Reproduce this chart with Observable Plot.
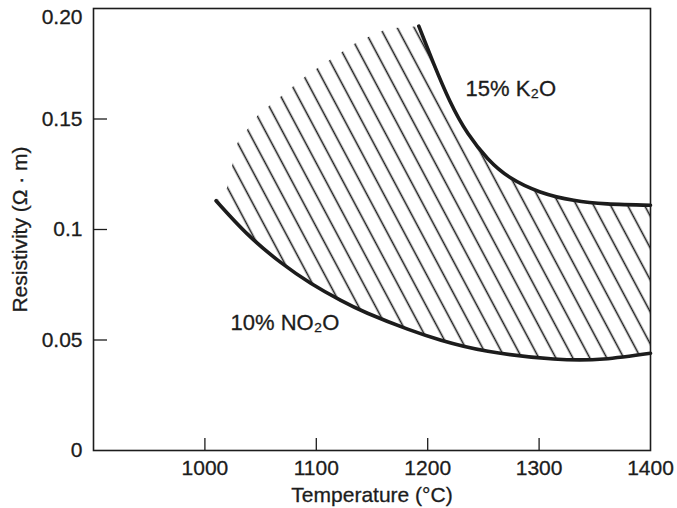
<!DOCTYPE html>
<html><head><meta charset="utf-8">
<script src="https://cdn.jsdelivr.net/npm/d3@7"></script>
<script src="https://cdn.jsdelivr.net/npm/@observablehq/plot@0.6"></script>
<style>body{margin:0;background:#fff;} svg{display:block} #chart svg text{stroke:#1c1c1c;stroke-width:0.3px;}</style>
</head><body><div id="chart"></div>
<script>
// Axis ticks
const xTicks = [1000, 1100, 1200, 1300, 1400];
const xTickLabels = ["1000", "1100", "1200", "1300", "1400"];
const yTicks = [0, 0.05, 0.1, 0.15, 0.2];
const yTickLabels = ["0", "0.05", "0.1", "0.15", "0.20"];

// 10% Na2O curve (lower)
const naTemp = [1010, 1038, 1068, 1095, 1122, 1146, 1182, 1212, 1254, 1313, 1358, 1400];
const naRes  = [0.113, 0.098, 0.0851, 0.0757, 0.0679, 0.0621, 0.0549, 0.0499, 0.0449, 0.0414, 0.0414, 0.044];

// 15% K2O curve (upper)
const kTemp = [1192, 1205, 1220, 1236, 1254, 1274, 1301, 1331, 1361, 1400];
const kRes  = [0.192, 0.1755, 0.158, 0.1435, 0.132, 0.1235, 0.117, 0.1132, 0.1116, 0.111];

// upper-left edge of the hatched band
const edgeTemp = [1010, 1020, 1029, 1048, 1070, 1092, 1113, 1137, 1164, 1192];
const edgeRes  = [0.113, 0.119, 0.139, 0.152, 0.161, 0.170, 0.177, 0.185, 0.191, 0.192];

// curve labels
const labelText = ["15% K\u2082O", "10% NO\u2082O"];
const labelTemp = [1234, 1023];
const labelRes  = [0.1638, 0.0575];

const na = naTemp.map((t, i) => ({t, r: naRes[i]}));
const k = kTemp.map((t, i) => ({t, r: kRes[i]}));
const edge = edgeTemp.map((t, i) => ({t, r: edgeRes[i]}));
const band = [...na, ...k.slice().reverse(), ...edge.slice().reverse()];
const labels = labelText.map((s, i) => ({s, t: labelTemp[i], r: labelRes[i]}));

const W = 677, H = 508, mL = 93, mR = 27, mT = 8, mB = 58;
const ink = "#1c1c1c";

const chart = Plot.plot({
  width: W, height: H,
  marginLeft: mL, marginRight: mR, marginTop: mT, marginBottom: mB,
  style: {fontFamily: "'Liberation Sans', Arial, Helvetica, sans-serif", fontSize: "21px", color: ink, background: "#fff"},
  x: {domain: [900, 1400]},
  y: {domain: [0, 0.2]},
  marks: [
    Plot.line(band, {x: "t", y: "r", fill: "url(#hatch)", stroke: "none", curve: "linear"}),
    Plot.line(na, {x: "t", y: "r", stroke: ink, strokeWidth: 3.6, curve: "natural"}),
    Plot.line(k, {x: "t", y: "r", stroke: ink, strokeWidth: 3.6, curve: "natural"}),
    Plot.ruleY(yTicks.filter(d => d > 0 && d < 0.2), {y: d => d, stroke: ink, strokeWidth: 1.3, insetRight: W - mL - mR - 14}),
    Plot.ruleX(xTicks.filter(d => d < 1400), {x: d => d, stroke: ink, strokeWidth: 1.3, insetTop: H - mT - mB - 12}),
    Plot.frame({stroke: ink, strokeWidth: 1.6}),
    Plot.axisX({ticks: xTicks, tickFormat: d => xTickLabels[xTicks.indexOf(d)], tickSize: 0, tickPadding: 10,
      label: "Temperature (°C)", labelAnchor: "center", labelArrow: "none", labelOffset: 51, fontSize: 21}),
    Plot.axisY({ticks: yTicks, tickFormat: d => yTickLabels[yTicks.indexOf(d)], tickSize: 0, tickPadding: 11,
      label: "Resistivity (Ω · m)", labelAnchor: "center", labelArrow: "none", labelOffset: 81, fontSize: 21}),
    Plot.text(labels, {x: "t", y: "r", text: "s", textAnchor: "start", fontSize: 22, fill: ink})
  ]
});

// top y tick label sits just below the frame's top edge, as in the reference
d3.select(chart).selectAll("text")
  .filter(function () { return this.textContent === "0.20"; })
  .attr("dy", "0.4em");

const defs = d3.select(chart).insert("defs", ":first-child");
const pat = defs.append("pattern")
  .attr("id", "hatch").attr("patternUnits", "userSpaceOnUse")
  .attr("width", 15).attr("height", 20)
  .attr("patternTransform", "rotate(-28)");
pat.append("line").attr("x1", 7.5).attr("y1", -1).attr("x2", 7.5).attr("y2", 21)
  .attr("stroke", ink).attr("stroke-width", 1.6);

document.getElementById("chart").appendChild(chart);
</script>
</body></html>
